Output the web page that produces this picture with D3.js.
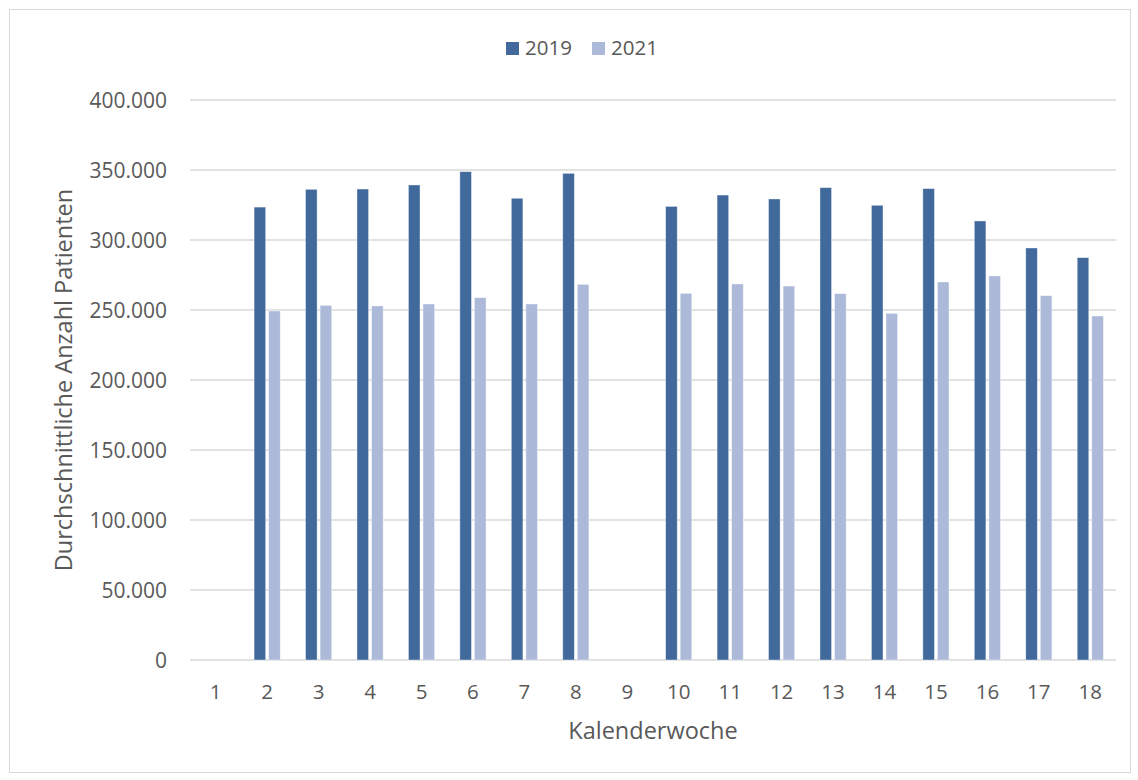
<!DOCTYPE html>
<html lang="de">
<head>
  <meta charset="UTF-8">
  <title>Kalenderwoche</title>
  <style>
    body, html { margin: 0; padding: 0; background: #fff; }
    svg text { font-family: "Open Sans", sans-serif; fill: #595959; }
  </style>
</head>
<body>
  <svg id="svg" width="1138" height="780"></svg>
  <script src="https://d3js.org/d3.v7.min.js"></script>
  <script>
    // data (weeks 1 and 9 have no values)
    const weeks = ['1','2','3','4','5','6','7','8','9','10','11','12','13','14','15','16','17','18']
    const values2019 = [null, 323500, 336200, 336400, 339300, 348800, 329800, 347600, null, 324000, 332100, 329300, 337400, 324800, 336700, 313600, 294300, 287400]
    const values2021 = [null, 249300, 253300, 252900, 254300, 258800, 254300, 268300, null, 261900, 268600, 267100, 261700, 247600, 270000, 274300, 260200, 245700]
    const yTicks = [0, 50000, 100000, 150000, 200000, 250000, 300000, 350000, 400000]
    const seriesNames = ['2019', '2021']
    const colors = ['#41699b', '#acb9d8']

    const svg = d3.select('#svg')

    // chart frame
    svg.append('rect')
      .attr('x', 9.5).attr('y', 9.5)
      .attr('width', 1121).attr('height', 763)
      .attr('fill', 'none')
      .attr('stroke', '#d9d9d9')

    const plotLeft = 190, plotRight = 1116, plotTop = 100, plotBottom = 660

    const x = d3.scaleBand().domain(weeks).range([plotLeft, plotRight])
    const y = d3.scaleLinear().domain([0, 400000]).range([plotBottom, plotTop])
    const fmt = d3.formatLocale({ decimal: ',', thousands: '.', grouping: [3], currency: ['', '€'] }).format(',')

    // gridlines
    svg.append('g')
      .selectAll('line')
      .data(yTicks)
      .join('line')
      .attr('x1', plotLeft).attr('x2', plotRight)
      .attr('y1', d => y(d)).attr('y2', d => y(d))
      .attr('stroke', '#d9d9d9')
      .attr('stroke-width', 1.5)

    // y tick labels
    svg.append('g')
      .selectAll('text')
      .data(yTicks)
      .join('text')
      .attr('x', 167)
      .attr('y', d => y(d))
      .attr('dy', '0.36em')
      .attr('text-anchor', 'end')
      .attr('font-size', 21)
      .text(d => fmt(d))

    // x tick labels
    svg.append('g')
      .selectAll('text')
      .data(weeks)
      .join('text')
      .attr('x', d => x(d) + x.bandwidth() / 2)
      .attr('y', 692)
      .attr('dy', '0.36em')
      .attr('text-anchor', 'middle')
      .attr('font-size', 20.5)
      .text(d => d)

    // bars
    const bw = x.bandwidth()
    const barW = bw * 0.225
    const inner = d3.scaleOrdinal().domain(seriesNames).range([bw / 2 - barW - 1.5, bw / 2 + 1.5])
    const rows = weeks.map((w, i) => ({ week: w, vals: [values2019[i], values2021[i]] }))

    seriesNames.forEach((s, si) => {
      svg.append('g')
        .selectAll('rect')
        .data(rows.filter(r => r.vals[si] !== null))
        .join('rect')
        .attr('x', d => x(d.week) + inner(s))
        .attr('y', d => y(d.vals[si]))
        .attr('width', barW)
        .attr('height', d => y(0) - y(d.vals[si]))
        .attr('fill', colors[si])
        .attr('stroke', '#fff')
        .attr('stroke-opacity', 0.5)
        .attr('stroke-width', 0.75)
    })

    // legend
    const legend = svg.append('g')
    const legendPos = [506, 592]
    seriesNames.forEach((s, i) => {
      legend.append('rect')
        .attr('x', legendPos[i]).attr('y', 42)
        .attr('width', 13).attr('height', 13)
        .attr('fill', colors[i])
      legend.append('text')
        .attr('x', legendPos[i] + 19).attr('y', 48)
        .attr('dy', '0.36em')
        .attr('font-size', 20.5)
        .text(s)
    })

    // axis titles
    svg.append('text')
      .attr('x', (plotLeft + plotRight) / 2)
      .attr('y', 731)
      .attr('dy', '0.36em')
      .attr('text-anchor', 'middle')
      .attr('font-size', 23.5)
      .text('Kalenderwoche')

    svg.append('text')
      .attr('transform', `translate(64, ${(plotTop + plotBottom) / 2}) rotate(-90)`)
      .attr('dy', '0.36em')
      .attr('text-anchor', 'middle')
      .attr('font-size', 23.5)
      .text('Durchschnittliche Anzahl Patienten')
  </script>
</body>
</html>
